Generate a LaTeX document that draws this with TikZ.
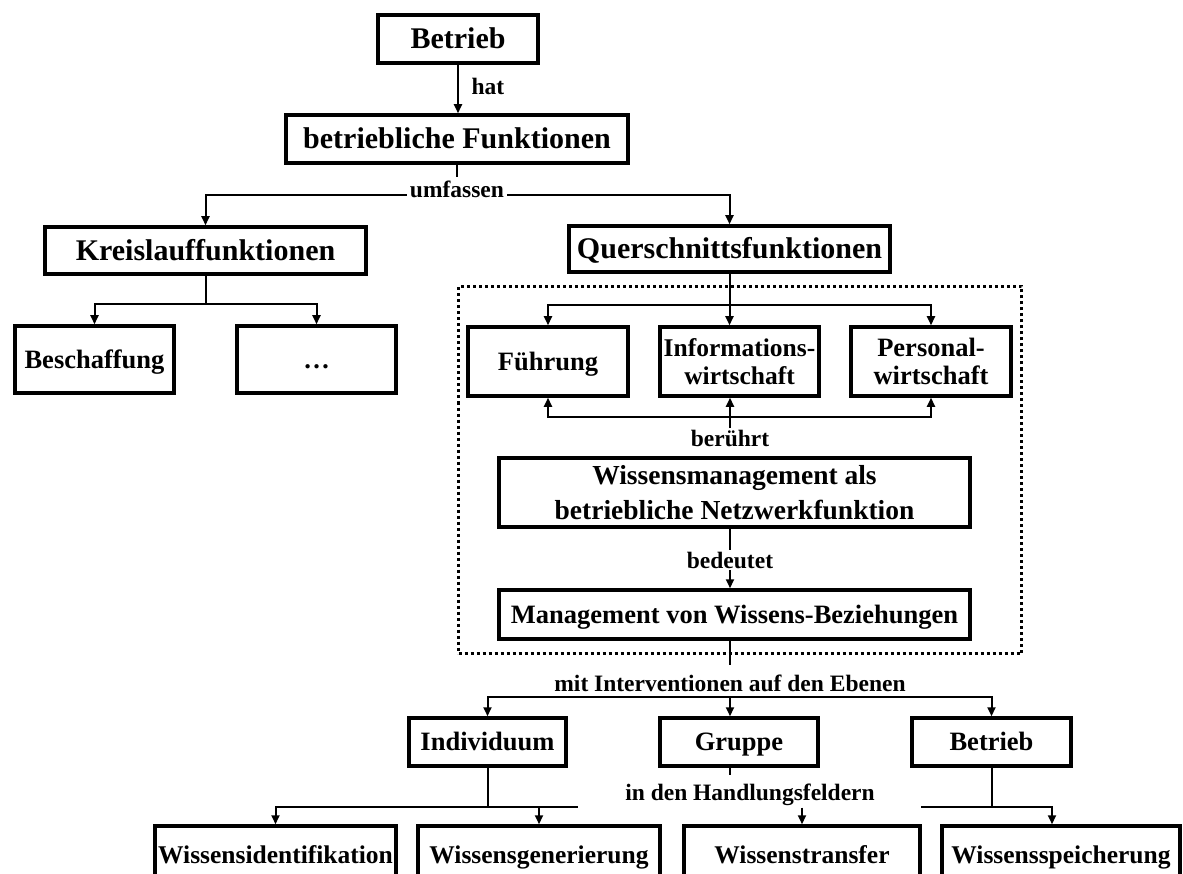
\documentclass[tikz,border=0pt]{standalone}
\usepackage{fontspec}
\setmainfont{Liberation Serif}
\usetikzlibrary{arrows.meta}
\begin{document}
\begin{tikzpicture}[x=1pt,y=-1pt,
 box/.style={draw, line width=3.5pt, align=center, inner sep=0pt, font=\bfseries\fontsize{26.5}{29}\selectfont},
 sl/.style={text height=#1, text depth=0pt},
 sl/.default=17.5pt,
 bigbox/.style={box, sl=19.8pt, font=\bfseries\fontsize{30}{33}\selectfont},
 lowbox/.style={box, sl=16.8pt, font=\bfseries\fontsize{25.5}{28}\selectfont},
 lab/.style={font=\bfseries\fontsize{23.5}{26}\selectfont, inner sep=1.5pt},
 conn/.style={line width=2pt},
 arr/.style={conn, -{Triangle[length=9pt,width=8pt]}},
 frame/.style={draw, line width=3pt, dash pattern=on 3pt off 3pt, inner sep=0pt}]
\clip (0,0) rectangle (1183,874);
% dotted frame
\node[frame, minimum width=563, minimum height=367] (frm) at (740,470) {};
% boxes
\node[bigbox, minimum width=160, minimum height=48] (b1) at (458,39) {Betrieb};
\node[bigbox, minimum width=342, minimum height=48] (bf) at (457,139) {betriebliche Funktionen};
\node[bigbox, minimum width=321, minimum height=47] (kf) at (205.5,250.5) {Kreislauffunktionen};
\node[bigbox, minimum width=321, minimum height=46] (qf) at (729.5,249) {Querschnittsfunktionen};
\node[box, sl, minimum width=159, minimum height=67] (bes) at (94.5,359.5) {Beschaffung};
\node[box, sl, minimum width=159, minimum height=67] (etc) at (316.5,359.5) {…};
\node[box, sl, minimum width=160, minimum height=69] (fu) at (548,361.5) {Führung};
\node[box, minimum width=159, minimum height=69, font=\bfseries\fontsize{25.5}{28.5}\selectfont] (iw) at (739.5,361.5) {Informations-\\wirtschaft};
\node[box, minimum width=160, minimum height=69, font=\bfseries\fontsize{26.5}{28.5}\selectfont] (pw) at (931,361.5) {Personal-\\wirtschaft};
\node[box, minimum width=471, minimum height=69, font=\bfseries\fontsize{27.5}{35}\selectfont] (wm) at (734.5,492.5) {Wissensmanagement als\\betriebliche Netzwerkfunktion};
\node[box, sl, minimum width=471, minimum height=49] (mw) at (734.5,614.5) {Management von Wissens-Beziehungen};
\node[box, sl, minimum width=157, minimum height=48] (ind) at (487.5,742) {Individuum};
\node[box, sl, minimum width=158, minimum height=48] (gr) at (739,742) {Gruppe};
\node[box, sl, minimum width=159, minimum height=48] (b2) at (991.5,742) {Betrieb};
\node[lowbox, minimum width=241, minimum height=58] (wi) at (275.5,855) {Wissensidentifikation};
\node[lowbox, minimum width=242, minimum height=58] (wg) at (539,855) {Wissensgenerierung};
\node[lowbox, minimum width=236, minimum height=58] (wt) at (802,855) {Wissenstransfer};
\node[lowbox, minimum width=238, minimum height=58] (ws) at (1061,855) {Wissensspeicherung};
% top
\draw[arr] (b1.south) -- (b1.south |- bf.north);
\node[lab] (hat) at (488,86) {hat};
\coordinate (ju) at (457,195);
\draw[arr] (ju) -| (kf.north);
\draw[arr] (ju) -| (qf.north);
\node[lab, fill=white, inner sep=3pt] (umf) at (457,189) {umfassen};
\draw[conn] (bf.south) -- (bf.south |- umf.north);
% Kreislauf
\coordinate (jk) at (205.5,304);
\draw[conn] (kf.south) -- (jk);
\draw[arr] (jk) -| (bes.north);
\draw[arr] (jk) -| (etc.north);
% Querschnitt
\coordinate (jq) at (729.5,305);
\draw[conn] (qf.south) -- (jq);
\draw[arr] (jq) -| (fu.north);
\draw[arr] (jq) -| (pw.north);
\draw[arr] (jq) -- (jq |- iw.north);
% beruehrt
\coordinate (jb) at (730,417);
\node[lab] (ber) at (730,438) {berührt};
\draw[conn] (ber.north) -- (jb);
\draw[arr] (jb) -| (fu.south);
\draw[arr] (jb) -| (pw.south);
\draw[arr] (jb) -- (jb |- iw.south);
% bedeutet
\node[lab] (bed) at (730,560) {bedeutet};
\draw[conn] (wm.south -| bed) -- (bed.north);
\draw[arr] (bed.south) -- (bed.south |- mw.north);
% Ebenen
\node[lab] (mit) at (730,683) {mit Interventionen auf den Ebenen};
\draw[conn] (mw.south -| mit) -- ++(0,24);
\coordinate (je) at (730,697);
\draw[arr] (je) -| (ind.north);
\draw[arr] (je) -| (b2.north);
\draw[arr] (je) -- (je |- gr.north);
% Handlungsfelder
\coordinate (ji) at (487.5,807);
\coordinate (jiend) at (578,807);
\draw[conn] (ind.south) -- (ji);
\draw[arr] (ji) -| (wi.north);
\draw[arr] (ji) -| (wg.north);
\draw[conn] (ji) -- (jiend);
\draw[conn] (gr.south -| je) -- ++(0,7);
\node[lab] (hf) at (750,795) {in den Handlungsfeldern};
\draw[arr] (hf.south -| wt) -- (wt.north);
\coordinate (jr) at (991.5,807);
\coordinate (jrend) at (921,807);
\coordinate (jw) at (1052,807);
\draw[conn] (b2.south) -- (jr);
\draw[arr] (jrend) -- (jw) -- (jw |- ws.north);
\end{tikzpicture}
\end{document}
